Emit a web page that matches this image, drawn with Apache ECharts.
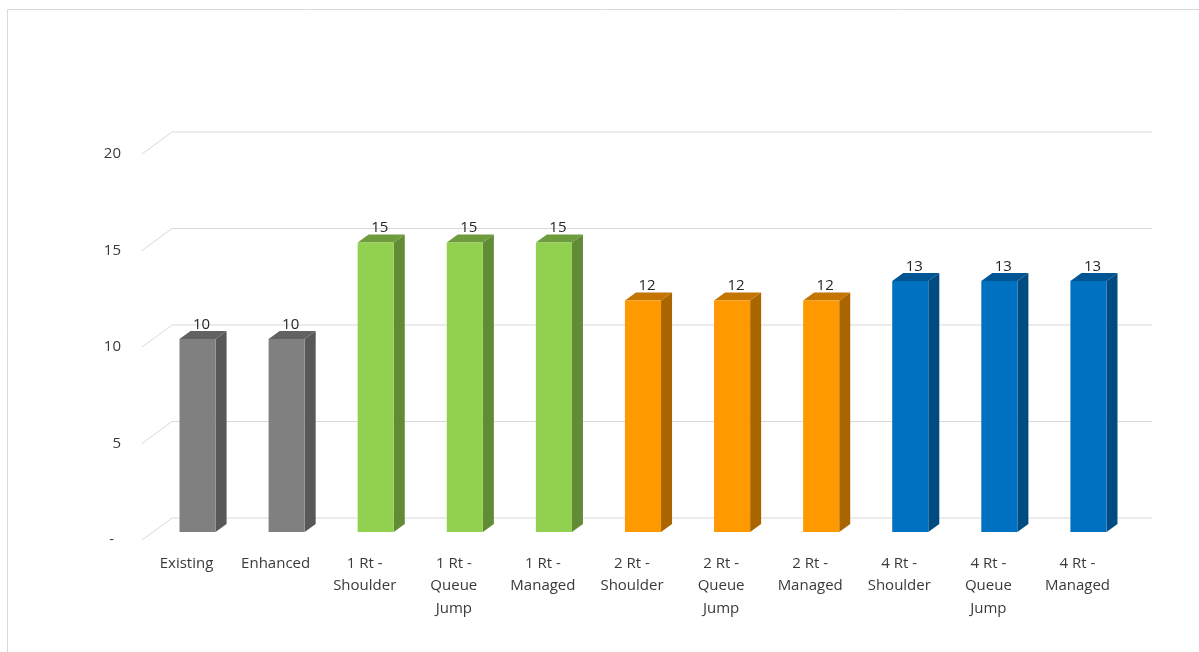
<!DOCTYPE html>
<html>
<head>
<meta charset="utf-8">
<script src="https://cdn.jsdelivr.net/npm/echarts@6/dist/echarts.min.js"></script>
<style>
  html, body { margin: 0; padding: 0; background: #fff; }
  #chart { width: 1199px; height: 652px; }
</style>
</head>
<body>
<div id="chart"></div>
<script>
// categories and values
const categories = [
  'Existing', 'Enhanced',
  '1 Rt -\nShoulder', '1 Rt -\nQueue\nJump', '1 Rt -\nManaged',
  '2 Rt -\nShoulder', '2 Rt -\nQueue\nJump', '2 Rt -\nManaged',
  '4 Rt -\nShoulder', '4 Rt -\nQueue\nJump', '4 Rt -\nManaged'
]
const values = [10, 10, 15, 15, 15, 12, 12, 12, 13, 13, 13]
const groups = [0, 0, 1, 1, 1, 2, 2, 2, 3, 3, 3]
const yTicks = [0, 5, 10, 15, 20]

// front / top / side colours for each group
const faceColors = [
  ['#808080', '#626262', '#585858'],
  ['#92d050', '#6e9c3c', '#618b34'],
  ['#ff9900', '#c47400', '#aa6500'],
  ['#0070c0', '#005594', '#004c82']
]

const DX = 11, DY = -8   // depth of a bar

const chart = echarts.init(document.getElementById('chart'))

const option = {
  backgroundColor: '#fff',
  animation: false,
  textStyle: { fontFamily: 'Open Sans' },
  graphic: [{
    type: 'rect',
    shape: { x: 7.5, y: 9.5, width: 1300, height: 700 },
    style: { fill: 'none', stroke: '#d9d9d9', lineWidth: 1 },
    silent: true
  }],
  grid: { left: 153, right: 66, top: 146, bottom: 120 },
  xAxis: {
    type: 'category',
    data: categories,
    axisLine: { show: false },
    axisTick: { show: false },
    axisLabel: {
      interval: 0,
      margin: 20,
      color: '#3a3a3a',
      fontSize: 15,
      lineHeight: 22.5,
      padding: [0, 22, 0, 0]
    }
  },
  yAxis: {
    type: 'value',
    min: 0,
    max: 20,
    interval: 5,
    splitLine: { show: false },
    axisLine: { show: false },
    axisTick: { show: false },
    axisLabel: {
      margin: 32,
      color: '#3a3a3a',
      fontSize: 15,
      padding: [16, 0, 0, 0],
      formatter: v => v === 0 ? '{d|-}' : String(v),
      rich: { d: { fontSize: 15, color: '#3a3a3a', padding: [0, 7, 0, 0] } }
    }
  },
  series: [
    {
      // back wall gridlines with the perspective step at the left
      type: 'custom',
      z: 1,
      silent: true,
      data: yTicks.map(v => [0, v]),
      renderItem: (params, api) => {
        const cs = params.coordSys
        const y = api.coord([0, api.value(1)])[1]
        return {
          type: 'polyline',
          shape: {
            points: [
              [cs.x - 11, y + 8],
              [cs.x + 19, y - 14],
              [cs.x + cs.width + 19, y - 14]
            ]
          },
          style: { stroke: '#d9d9d9', lineWidth: 1, fill: null }
        }
      }
    },
    {
      // 3D columns
      type: 'custom',
      z: 2,
      data: values.map((v, i) => [i, v, groups[i]]),
      renderItem: (params, api) => {
        const idx = api.value(0)
        const top = api.coord([idx, api.value(1)])
        const base = api.coord([idx, 0])
        const w = api.size([1, 0])[0] * 0.405
        const x0 = top[0] - w / 2
        const x1 = top[0] + w / 2
        const c = faceColors[api.value(2)]
        return {
          type: 'group',
          children: [
            {
              type: 'polygon',
              shape: { points: [[x1, top[1]], [x1 + DX, top[1] + DY], [x1 + DX, base[1] + DY], [x1, base[1]]] },
              style: { fill: c[2] }
            },
            {
              type: 'polygon',
              shape: { points: [[x0, top[1]], [x0 + DX, top[1] + DY], [x1 + DX, top[1] + DY], [x1, top[1]]] },
              style: { fill: c[1] }
            },
            {
              type: 'rect',
              shape: { x: x0, y: top[1], width: w, height: base[1] - top[1] },
              style: { fill: c[0] }
            },
            {
              type: 'text',
              x: top[0] + 4,
              y: top[1] - 7,
              style: {
                text: String(api.value(1)),
                fill: '#262626',
                fontSize: 15,
                fontFamily: 'Open Sans',
                align: 'center',
                verticalAlign: 'bottom'
              }
            }
          ]
        }
      }
    }
  ]
}

chart.setOption(option)
</script>
</body>
</html>
